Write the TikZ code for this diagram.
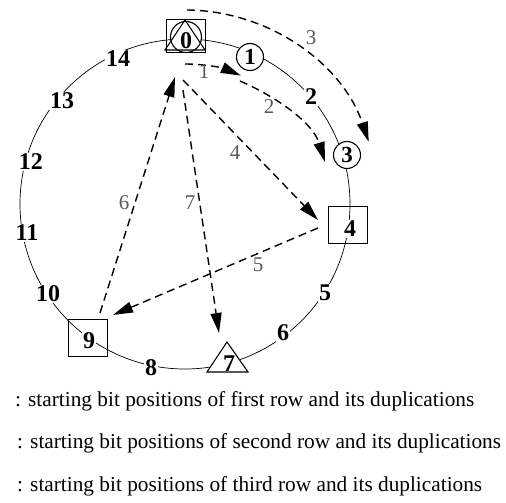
\documentclass[tikz,border=0pt]{standalone}
\usepackage{fontspec}
\setmainfont{Liberation Serif}
\usetikzlibrary{arrows.meta}
\begin{document}
\begin{tikzpicture}[x=1pt,y=-1pt,
  num/.style={font=\fontsize{24}{24}\selectfont\bfseries, inner sep=1pt, fill=white},
  plainnum/.style={font=\fontsize{24}{24}\selectfont\bfseries, inner sep=0pt},
  lab/.style={font=\fontsize{21}{21}\selectfont, text=black!65, inner sep=1pt},
  legend/.style={font=\fontsize{21.3}{21.3}\selectfont, anchor=base west, inner sep=0pt},
  boxnode/.style={draw, line width=1.3pt, minimum width=39pt, minimum height=37pt, inner sep=0pt},
  cnode/.style={draw, circle, line width=1.1pt, minimum size=27pt, inner sep=0pt, fill=white, font=\fontsize{23}{23}\selectfont\bfseries},
  darrow/.style={line width=1.4pt, dash pattern=on 8pt off 5pt, -{Triangle[length=20pt,width=11pt]}},
  ring/.style={line width=0.7pt},
  shapeline/.style={line width=1.1pt}
]
\useasboundingbox (0,0) rectangle (506,503);
\coordinate (C) at (185,204);
\draw[ring] (C) circle[radius=165];

% position 0
\node[boxnode, minimum height=33pt] (b0) at (186,36) {};
\node[draw, circle, shapeline, minimum size=31pt, inner sep=0pt, fill=white] (c0) at (186,37) {};
\draw[shapeline] (185,20) -- (205,50) -- (165,50) -- cycle;
\node[plainnum] (n0) at (186,41) {0};

% circles
\node[cnode] (n1) at (250,57) {1};
\node[cnode] (n3) at (347,155) {3};

% boxes
\node[boxnode] (b4) at (348,225) {};
\node[num] (n4) at (350,229) {4};
\node[boxnode] (b9) at (88,338) {};
\node[num] (n9) at (89,341) {9};

% triangle
\draw[shapeline, fill=white] (227,342) -- (248,372) -- (207,372) -- cycle;
\node[plainnum] (n7) at (229,364) {7};

% other positions
\node[num] (n2) at (311,97) {2};
\node[num] (n5) at (325,293) {5};
\node[num] (n6) at (283,333) {6};
\node[num] (n8) at (151,368) {8};
\node[num] (n10) at (48,294) {10};
\node[num] (n11) at (27,233) {11};
\node[num] (n12) at (31,162) {12};
\node[num] (n13) at (62,101) {13};
\node[num] (n14) at (118,59) {14};

% arrows
\coordinate (a1s) at (185,64);
\draw[darrow] (a1s) arc[start angle=-90, end angle=-66.5, radius=140];
\coordinate (a2s) at (240,81);
\coordinate (a2e) at (325,162);
\draw[darrow] (a2s) .. controls (277,97) and (313,123) .. (a2e);
\coordinate (a3s) at (187,10);
\draw[darrow] (a3s) arc[start angle=-89.4, end angle=-18.7, radius=194];
\coordinate (a4s) at (183,80);
\coordinate (a4e) at (318,220);
\draw[darrow] (a4s) -- (a4e);
\coordinate (a5s) at (318,228);
\coordinate (a5e) at (113,315);
\draw[darrow] (a5s) -- (a5e);
\coordinate (a6s) at (100,313);
\coordinate (a6e) at (175,77);
\draw[darrow] (a6s) -- (a6e);
\coordinate (a7s) at (183,90);
\coordinate (a7e) at (219,333);
\draw[darrow] (a7s) -- (a7e);

% arrow labels
\node[lab] (l1) at (204,72) {1};
\node[lab] (l2) at (269,107) {2};
\node[lab] (l3) at (311,38) {3};
\node[lab] (l4) at (235,153) {4};
\node[lab] (l5) at (258,265) {5};
\node[lab] (l6) at (124,203) {6};
\node[lab] (l7) at (190,203) {7};

% legend
\node[legend] (g1) at (15,406) {: starting bit positions of first row and its duplications};
\node[legend] (g2) at (17,448) {: starting bit positions of second row and its duplications};
\node[legend] (g3) at (17,491) {: starting bit positions of third row and its duplications};
\end{tikzpicture}
\end{document}
